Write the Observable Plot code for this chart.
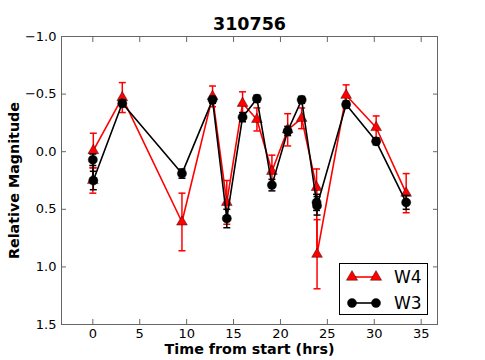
<!DOCTYPE html>
<html><head><meta charset="utf-8">
<script src="https://cdn.jsdelivr.net/npm/d3@7"></script>
<script src="https://cdn.jsdelivr.net/npm/@observablehq/plot@0.6"></script>
<style>
body{margin:0;background:#fff;font-family:"DejaVu Sans",sans-serif;}
#wrap{position:relative;width:485px;height:360px;}
#legend{position:absolute;left:339px;top:263px;}
</style></head><body><div id="wrap"><div id="legend"></div></div>
<script>
const title = "310756";
const xLabel = "Time from start (hrs)";
const yLabel = "Relative Magnitude";
const xTicks = [0, 5, 10, 15, 20, 25, 30, 35];
const yTicks = [-1.0, -0.5, 0.0, 0.5, 1.0, 1.5];
const seriesNames = ["W4", "W3"];

const time  = [0, 0.05, 3.14, 9.5, 12.76, 14.28, 15.96, 17.49, 19.09, 20.77, 22.26, 23.85, 23.9, 27.0, 30.2, 33.4];
const w4Mag = [0.25, -0.01, -0.47, 0.61, -0.48, 0.44, -0.42, -0.28, 0.17, -0.19, -0.29, 0.31, 0.89, -0.49, -0.21, 0.36];
const w4Err = [0.11, 0.15, 0.13, 0.25, 0.09, 0.19, 0.10, 0.10, 0.14, 0.14, 0.09, 0.16, 0.30, 0.09, 0.10, 0.17];
const w3Mag = [0.07, 0.25, -0.42, 0.19, -0.45, 0.58, -0.30, -0.46, 0.29, -0.18, -0.45, 0.44, 0.47, -0.41, -0.09, 0.44];
const w3Err = [0.05, 0.08, 0.03, 0.04, 0.03, 0.08, 0.04, 0.03, 0.05, 0.04, 0.03, 0.07, 0.08, 0.03, 0.03, 0.06];

const w4 = time.map((t, i) => ({t, m: w4Mag[i], e: w4Err[i]}));
const w3 = time.map((t, i) => ({t, m: w3Mag[i], e: w3Err[i]}));

const capSymbol = {draw(ctx, size) { const w = Math.sqrt(size / Math.PI); ctx.moveTo(-w, 0); ctx.lineTo(w, 0); }};
const fmt = d => (d < 0 ? "\u2212" : "") + Math.abs(d).toFixed(1);

function series(data, color, symbol, r) {
  return [
    Plot.ruleX(data, {x: "t", y1: d => d.m - d.e, y2: d => d.m + d.e, stroke: color, strokeWidth: 1.5}),
    Plot.dot(data, {x: "t", y: d => d.m - d.e, symbol: capSymbol, r: 3.5, stroke: color, strokeWidth: 1.5}),
    Plot.dot(data, {x: "t", y: d => d.m + d.e, symbol: capSymbol, r: 3.5, stroke: color, strokeWidth: 1.5}),
    Plot.line(data, {x: "t", y: "m", stroke: color, strokeWidth: 1.6}),
    Plot.dot(data, {x: "t", y: "m", symbol, r, fill: color, stroke: "#000", strokeWidth: 0.4})
  ];
}

const chart = Plot.plot({
  width: 485, height: 360,
  marginLeft: 61, marginRight: 48, marginTop: 36, marginBottom: 36,
  style: {fontFamily: "DejaVu Sans", fontSize: "13px", color: "#000", background: "#fff"},
  x: {domain: [-3.34, 36.74]},
  y: {domain: [-1, 1.5], reverse: true},
  marks: [
    ...series(w4, "red", "triangle", 4),
    ...series(w3, "black", "circle", 4.6),
    Plot.frame({stroke: "#666"}),
    Plot.axisX({ticks: xTicks, tickSize: -5, tickPadding: 9, label: null, stroke: "#666"}),
    Plot.axisX({anchor: "top", ticks: xTicks, tickSize: -5, tickFormat: () => "", label: null, stroke: "#666"}),
    Plot.axisY({ticks: yTicks, tickSize: -5, tickPadding: 10, tickFormat: fmt, label: null, stroke: "#666"}),
    Plot.axisY({anchor: "right", ticks: yTicks, tickSize: -5, tickFormat: () => "", label: null, stroke: "#666"}),
    Plot.text([title], {frameAnchor: "top", dy: -12, lineAnchor: "middle", textAnchor: "middle", fontWeight: "bold", fontSize: 17.5}),
    Plot.text([xLabel], {frameAnchor: "bottom", dy: 25, lineAnchor: "middle", textAnchor: "middle", fontWeight: "bold", fontSize: 14.3}),
    Plot.text([yLabel], {frameAnchor: "left", dx: -47, rotate: -90, lineAnchor: "middle", textAnchor: "middle", fontWeight: "bold", fontSize: 14.3})
  ]
});
document.getElementById("wrap").prepend(chart);

// legend
const lw = 89, lh = 52;
const lg = d3.select("#legend").append("svg").attr("width", lw).attr("height", lh);
lg.append("rect").attr("x", 0.5).attr("y", 0.5).attr("width", lw - 1).attr("height", lh - 1)
  .attr("fill", "#fff").attr("stroke", "#000").attr("stroke-width", 1);
const legendItems = [
  {name: seriesNames[0], color: "red", sym: d3.symbolTriangle, size: 55},
  {name: seriesNames[1], color: "black", sym: d3.symbolCircle, size: 66}
];
legendItems.forEach((it, i) => {
  const cy = 14 + i * 26;
  const g = lg.append("g");
  g.append("line").attr("x1", 13).attr("x2", 37).attr("y1", cy).attr("y2", cy)
    .attr("stroke", it.color).attr("stroke-width", 1.6);
  [13, 37].forEach(cx => g.append("path").attr("d", d3.symbol(it.sym, it.size)())
    .attr("transform", `translate(${cx},${cy})`).attr("fill", it.color).attr("stroke", "#000").attr("stroke-width", 0.4));
  g.append("text").attr("x", 55).attr("y", cy).attr("dy", "0.35em")
    .attr("font-family", "DejaVu Sans").attr("font-size", 17).text(it.name);
});
</script>
</body></html>
